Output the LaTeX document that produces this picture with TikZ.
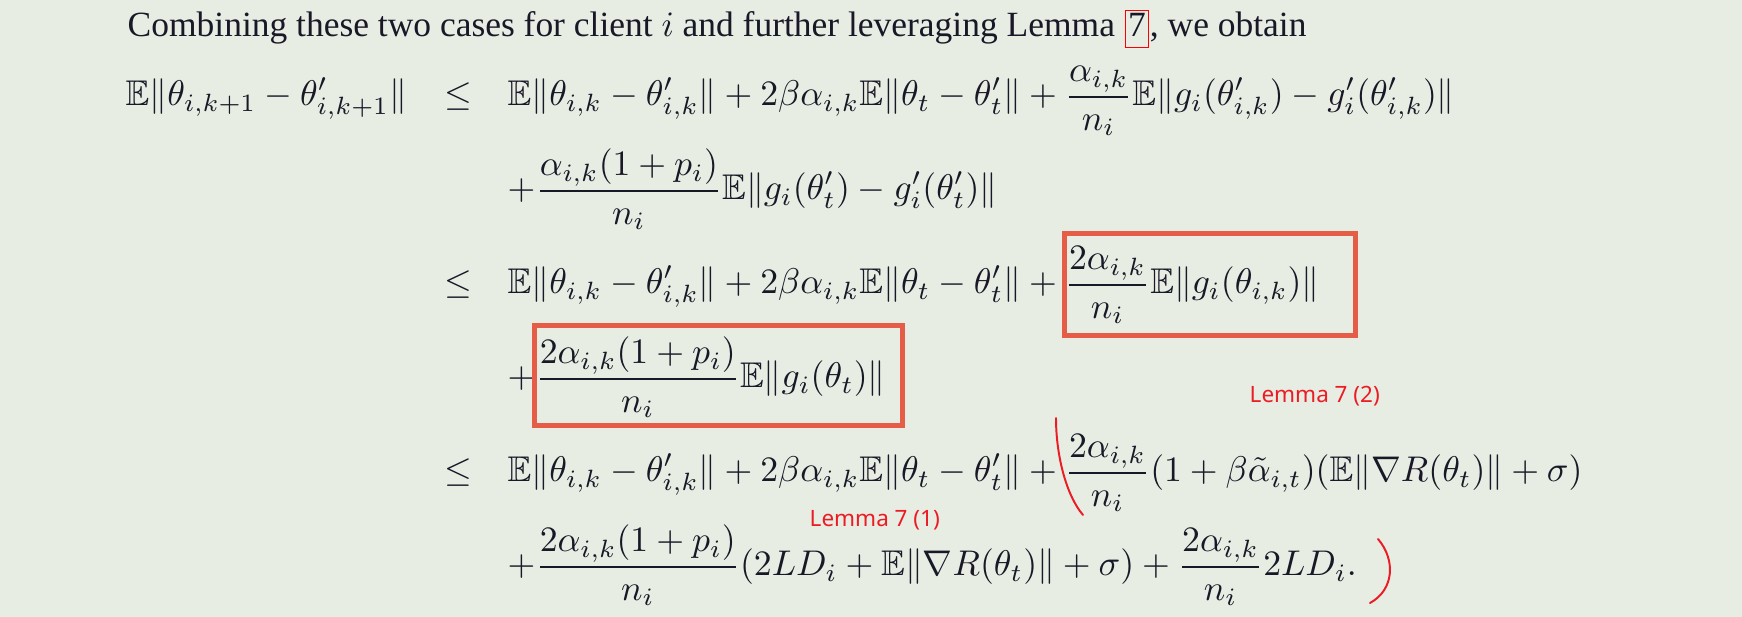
\documentclass[tikz,border=0pt]{standalone}
\usepackage{amsmath,amssymb}
\usepackage[no-math]{fontspec}
\setmainfont{Liberation Serif}
\newfontfamily\annfont{Noto Sans}
\definecolor{bg}{RGB}{232,237,228}
\definecolor{ink}{RGB}{24,24,38}
\definecolor{boxred}{RGB}{229,93,70}
\definecolor{penred}{RGB}{236,28,36}
\definecolor{linkred}{RGB}{255,0,0}
\begin{document}
\begin{tikzpicture}[x=0.28pt,y=-0.28pt,
  every node/.style={inner sep=0pt, anchor=base west, text=ink},
  eq/.style={font=\fontsize{10}{12}\selectfont},
  prose/.style={font=\fontsize{9.93}{12}\selectfont},
  hl/.style={draw=boxred, line width=1.4pt},
  pen/.style={draw=penred, line width=0.55pt, line cap=round},
  ann/.style={text=penred, font=\annfont\fontsize{6.3}{7}\selectfont}]
\fill[bg] (0,0) rectangle (1742,617);
\useasboundingbox (0,0) rectangle (1742,617);
% text line
\node[prose] (t1) at (127,37) {Combining these two cases for client $i$ and further leveraging Lemma\ \kern0pt};
\node[prose, draw=linkred, line width=0.35pt, inner xsep=0.8pt, text height=7.5pt, text depth=3pt] (t7) at (t1.base east) {7};
\node[prose] (t2) at (t7.base east) {, we obtain};
% row 1
\node[eq] (lhs) at (125,106) {$\displaystyle \mathbb{E}\|\theta_{i,k+1}-\theta'_{i,k+1}\|$};
\node[eq] (rel1) at (444,106) {$\leq$};
\node[eq] (rhs1) at (507,106) {$\displaystyle \mathbb{E}\|\theta_{i,k}-\theta'_{i,k}\|+2\beta\alpha_{i,k}\mathbb{E}\|\theta_t-\theta'_t\|+\frac{\alpha_{i,k}}{n_i}\mathbb{E}\|g_i(\theta'_{i,k})-g'_i(\theta'_{i,k})\|$};
% row 2
\node[eq] (rhs2) at (507,200) {$\displaystyle {+}\frac{\alpha_{i,k}(1+p_i)}{n_i}\mathbb{E}\|g_i(\theta'_t)-g'_i(\theta'_t)\|$};
% row 3
\node[eq] (rel3) at (444,294) {$\leq$};
\node[eq] (rhs3) at (507,294) {$\displaystyle \mathbb{E}\|\theta_{i,k}-\theta'_{i,k}\|+2\beta\alpha_{i,k}\mathbb{E}\|\theta_t-\theta'_t\|+\frac{2\alpha_{i,k}}{n_i}\mathbb{E}\|g_i(\theta_{i,k})\|$};
% row 4
\node[eq] (rhs4) at (507,388) {$\displaystyle {+}\frac{2\alpha_{i,k}(1+p_i)}{n_i}\mathbb{E}\|g_i(\theta_t)\|$};
% row 5
\node[eq] (rel5) at (444,482) {$\leq$};
\node[eq] (rhs5) at (507,482) {$\displaystyle \mathbb{E}\|\theta_{i,k}-\theta'_{i,k}\|+2\beta\alpha_{i,k}\mathbb{E}\|\theta_t-\theta'_t\|+\frac{2\alpha_{i,k}}{n_i}(1+\beta\tilde{\alpha}_{i,t})(\mathbb{E}\|\nabla R(\theta_t)\|+\sigma)$};
% row 6
\node[eq] (rhs6) at (507,576) {$\displaystyle {+}\frac{2\alpha_{i,k}(1+p_i)}{n_i}(2LD_i+\mathbb{E}\|\nabla R(\theta_t)\|+\sigma)+\frac{2\alpha_{i,k}}{n_i}2LD_i.$};
% highlight boxes
\draw[hl] (1064,234) rectangle (1355,336);
\draw[hl] (534,326) rectangle (902,426);
% annotations
\node[ann] (ann2) at (1249,403) {Lemma 7 (2)};
\node[ann] (ann1) at (809,527) {Lemma 7 (1)};
\draw[pen] (1056,418) .. controls (1056,455) and (1066,495) .. (1083,515);
\draw[pen] (1378,539) .. controls (1396,560) and (1394,590) .. (1370,603);
\end{tikzpicture}
\end{document}
